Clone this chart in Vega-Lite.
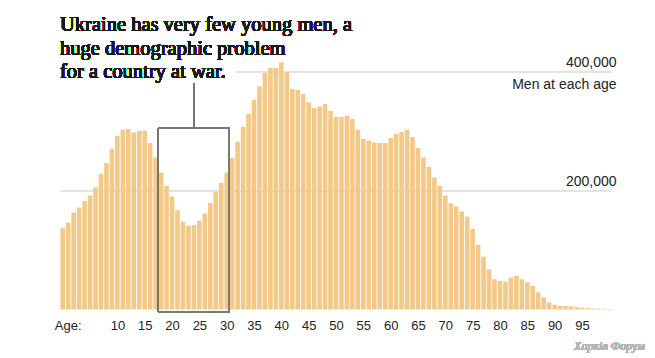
{
  "$schema": "https://vega.github.io/schema/vega-lite/v6.json",
  "width": 562,
  "height": 249.5,
  "autosize": {"type": "none"},
  "padding": {"left": 55, "top": 60, "right": 38, "bottom": 48.5},
  "background": "white",
  "config": {"view": {"stroke": null}},
  "data": {"values": [
    {"age": 0, "men": 136900}, {"age": 1, "men": 146300}, {"age": 2, "men": 163200}, {"age": 3, "men": 171600},
    {"age": 4, "men": 182900}, {"age": 5, "men": 191900}, {"age": 6, "men": 205400}, {"age": 7, "men": 227900},
    {"age": 8, "men": 246500}, {"age": 9, "men": 270600}, {"age": 10, "men": 292500}, {"age": 11, "men": 302600},
    {"age": 12, "men": 303800}, {"age": 13, "men": 298100}, {"age": 14, "men": 300400}, {"age": 15, "men": 301000},
    {"age": 16, "men": 280200}, {"age": 17, "men": 256000}, {"age": 18, "men": 230700}, {"age": 19, "men": 208200},
    {"age": 20, "men": 190200}, {"age": 21, "men": 167200}, {"age": 22, "men": 148000}, {"age": 23, "men": 140800},
    {"age": 24, "men": 142000}, {"age": 25, "men": 149200}, {"age": 26, "men": 161500}, {"age": 27, "men": 179000},
    {"age": 28, "men": 197600}, {"age": 29, "men": 213300}, {"age": 30, "men": 230700}, {"age": 31, "men": 254900},
    {"age": 32, "men": 282400}, {"age": 33, "men": 307700}, {"age": 34, "men": 329100}, {"age": 35, "men": 353200},
    {"age": 36, "men": 375700}, {"age": 37, "men": 398200}, {"age": 38, "men": 406700}, {"age": 39, "men": 406700},
    {"age": 40, "men": 416100}, {"age": 41, "men": 399900}, {"age": 42, "men": 371800}, {"age": 43, "men": 370100},
    {"age": 44, "men": 362800}, {"age": 45, "men": 348700}, {"age": 46, "men": 339200}, {"age": 47, "men": 341900},
    {"age": 48, "men": 346000}, {"age": 49, "men": 334700}, {"age": 50, "men": 324500}, {"age": 51, "men": 324000},
    {"age": 52, "men": 326200}, {"age": 53, "men": 320700}, {"age": 54, "men": 302600}, {"age": 55, "men": 286900},
    {"age": 56, "men": 284600}, {"age": 57, "men": 281200}, {"age": 58, "men": 280200}, {"age": 59, "men": 280200},
    {"age": 60, "men": 288600}, {"age": 61, "men": 295900}, {"age": 62, "men": 298700}, {"age": 63, "men": 302600},
    {"age": 64, "men": 290300}, {"age": 65, "men": 271800}, {"age": 66, "men": 256000}, {"age": 67, "men": 239700},
    {"age": 68, "men": 222200}, {"age": 69, "men": 208200}, {"age": 70, "men": 191900}, {"age": 71, "men": 179000},
    {"age": 72, "men": 173300}, {"age": 73, "men": 164900}, {"age": 74, "men": 156500}, {"age": 75, "men": 135700},
    {"age": 76, "men": 108700}, {"age": 77, "men": 89000}, {"age": 78, "men": 67800}, {"age": 79, "men": 50900},
    {"age": 80, "men": 48100}, {"age": 81, "men": 46900}, {"age": 82, "men": 53600}, {"age": 83, "men": 56500},
    {"age": 84, "men": 50900}, {"age": 85, "men": 45900}, {"age": 86, "men": 39600}, {"age": 87, "men": 29000},
    {"age": 88, "men": 20600}, {"age": 89, "men": 12100}, {"age": 90, "men": 8000}, {"age": 91, "men": 6000},
    {"age": 92, "men": 6000}, {"age": 93, "men": 5500}, {"age": 94, "men": 4000}, {"age": 95, "men": 3000},
    {"age": 96, "men": 2500}, {"age": 97, "men": 2000}, {"age": 98, "men": 1500}, {"age": 99, "men": 1200},
    {"age": 100, "men": 1000}
  ]},
  "layer": [
    {
      "mark": {"type": "rule", "color": "#e3e3e3", "strokeWidth": 1},
      "encoding": {
        "x": {"datum": -0.5, "type": "quantitative"},
        "x2": {"datum": 100.5},
        "y": {"datum": 200000, "type": "quantitative"}
      }
    },
    {
      "mark": {"type": "rule", "color": "#e3e3e3", "strokeWidth": 1},
      "encoding": {
        "x": {"datum": 31.8, "type": "quantitative"},
        "x2": {"datum": 100.5},
        "y": {"datum": 400000, "type": "quantitative"}
      }
    },
    {
      "mark": {"type": "bar", "color": "#f4c988", "size": 4.6},
      "encoding": {
        "x": {
          "field": "age", "type": "quantitative",
          "scale": {"domain": [-0.5, 100.5], "nice": false, "zero": false},
          "axis": {
            "values": [0.9, 10, 15, 20, 25, 30, 35, 40, 45, 50, 55, 60, 65, 70, 75, 80, 85, 90, 95],
            "tickCount": 40,
            "labelExpr": "datum.value < 5 ? 'Age:' : datum.label",
            "title": null, "domain": false, "ticks": false, "tickSize": 0, "grid": false,
            "labelPadding": 10, "labelFontSize": 13, "labelFont": "Liberation Sans", "labelColor": "#222222",
            "labelOverlap": false, "labelFlush": false, "labelBound": false
          }
        },
        "y": {
          "field": "men", "type": "quantitative",
          "scale": {"domain": [0, 420000], "nice": false},
          "axis": {
            "orient": "right", "values": [200000, 400000], "format": ",d",
            "domain": false, "ticks": false, "tickSize": 0, "grid": false,
            "labelAlign": "right", "labelBaseline": "alphabetic", "labelPadding": -1, "labelOffset": -5,
            "labelFontSize": 14, "labelFont": "Liberation Sans", "labelColor": "#222222",
            "title": "Men at each age", "titleAngle": 0, "titleAlign": "right", "titleBaseline": "alphabetic",
            "titleX": -1, "titleY": 28, "titleFontSize": 14, "titleFontWeight": "normal",
            "titleFont": "Liberation Sans", "titleColor": "#222222"
          }
        }
      }
    },
    {
      "mark": {"type": "rect", "fill": null, "fillOpacity": 0, "stroke": "#777777", "strokeWidth": 1},
      "encoding": {
        "x": {"datum": 17.5, "type": "quantitative"},
        "x2": {"datum": 30.5},
        "y": {"datum": 305000, "type": "quantitative"},
        "y2": {"datum": -4000}
      }
    },
    {
      "mark": {"type": "rule", "color": "#777777", "strokeWidth": 1},
      "encoding": {
        "x": {"datum": 24, "type": "quantitative"},
        "y": {"datum": 305000, "type": "quantitative"},
        "y2": {"datum": 381000}
      }
    },
    {
      "mark": {
        "type": "text",
        "text": ["Ukraine has very few young men, a", "huge demographic problem", "for a country at war."],
        "align": "left", "baseline": "alphabetic", "lineHeight": 23.5,
        "font": "Liberation Serif", "fontSize": 20.5, "color": "#1a1a1a"
      },
      "encoding": {
        "x": {"datum": -0.5, "type": "quantitative"},
        "y": {"datum": 468800, "type": "quantitative"}
      }
    },
    {
      "mark": {
        "type": "text", "text": "Харків Форум",
        "align": "right", "baseline": "alphabetic",
        "font": "Liberation Serif", "fontStyle": "italic", "fontSize": 12, "color": "#b5b5b5"
      },
      "encoding": {
        "x": {"datum": 106.5, "type": "quantitative"},
        "y": {"datum": -68000, "type": "quantitative"}
      }
    }
  ]
}
